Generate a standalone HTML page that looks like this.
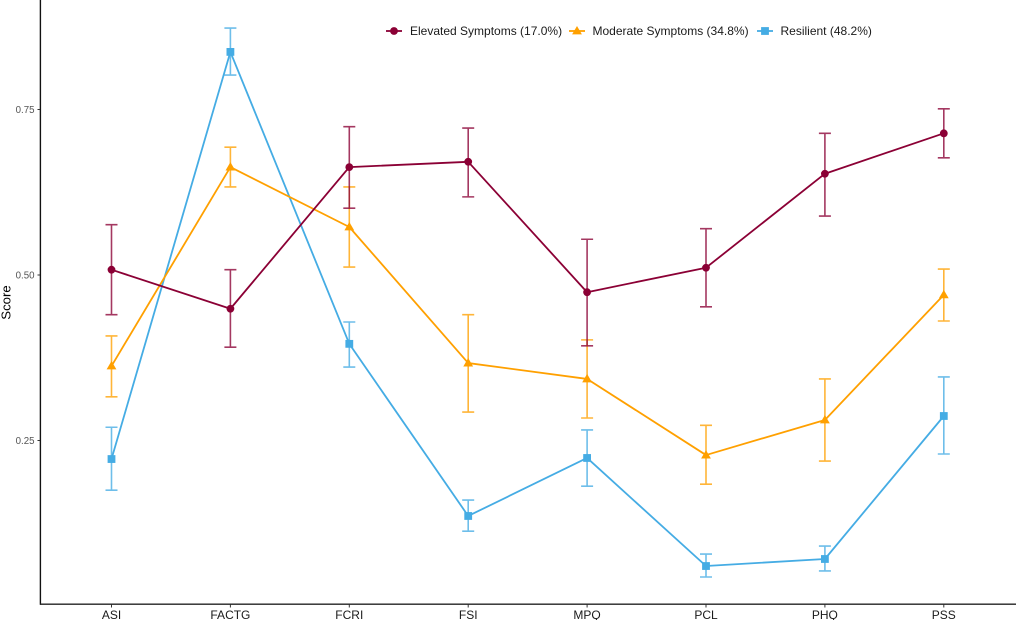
<!DOCTYPE html>
<html>
<head>
<meta charset="utf-8">
<style>
html,body{margin:0;padding:0;background:#fff;}
svg{display:block;}
text{font-family:"Liberation Sans",Arial,sans-serif;}
</style>
</head>
<body>
<svg id="chart" width="1016" height="620" viewBox="0 0 1016 620" xmlns="http://www.w3.org/2000/svg"></svg>
<script>
const categories = ["ASI","FACTG","FCRI","FSI","MPQ","PCL","PHQ","PSS"];
const yTicks = [0.25,0.50,0.75];
const elevatedName = "Elevated Symptoms (17.0%)";
const elevatedMean  = [0.508,0.449,0.663,0.671,0.474,0.511,0.653,0.714];
const elevatedUpper = [0.576,0.508,0.724,0.722,0.554,0.570,0.714,0.751];
const elevatedLower = [0.440,0.391,0.601,0.618,0.393,0.452,0.589,0.677];
const moderateName = "Moderate Symptoms (34.8%)";
const moderateMean  = [0.3625,0.663,0.5725,0.367,0.343,0.228,0.281,0.470];
const moderateUpper = [0.408,0.693,0.633,0.440,0.402,0.273,0.343,0.509];
const moderateLower = [0.316,0.633,0.512,0.293,0.284,0.184,0.219,0.4305];
const resilientName = "Resilient (48.2%)";
const resilientMean  = [0.222,0.837,0.396,0.136,0.2236,0.0604,0.071,0.287];
const resilientUpper = [0.270,0.873,0.429,0.160,0.266,0.0785,0.0906,0.346];
const resilientLower = [0.175,0.802,0.361,0.113,0.181,0.0438,0.053,0.2296];

const NS = "http://www.w3.org/2000/svg";
const svg = document.getElementById("chart");
function xPos(i){ return 111.5 + i * 118.9; }
function yPos(v){ return 275 - (v - 0.5) * 662; }
function make(tag, attrs, parent, txt){
  const el = document.createElementNS(NS, tag);
  for (const k in attrs) el.setAttribute(k, attrs[k]);
  if (txt !== undefined) el.textContent = txt;
  (parent || svg).appendChild(el);
  return el;
}
function drawMarker(shape, cx, cy, color, parent){
  if (shape === "circle") return make("circle", {cx:cx, cy:cy, r:3.9, fill:color}, parent);
  if (shape === "triangle") return make("polygon", {points:(cx-4.9)+","+(cy+3.4)+" "+(cx+4.9)+","+(cy+3.4)+" "+cx+","+(cy-5), fill:color}, parent);
  return make("rect", {x:cx-3.9, y:cy-3.9, width:7.8, height:7.8, fill:color}, parent);
}

const series = [
  {key:"resilient", name:resilientName, mean:resilientMean, upper:resilientUpper, lower:resilientLower, color:"#45ace4", shape:"square"},
  {key:"moderate", name:moderateName, mean:moderateMean, upper:moderateUpper, lower:moderateLower, color:"#ffa000", shape:"triangle"},
  {key:"elevated", name:elevatedName, mean:elevatedMean, upper:elevatedUpper, lower:elevatedLower, color:"#8b0035", shape:"circle"}
];

series.forEach(function(s){
  const g = make("g", {});
  
  
  s.mean.forEach(function(m, i){
    const x = xPos(i), yu = yPos(s.upper[i]), yl = yPos(s.lower[i]);
    const eb = make("path", {d:"M"+(x-6)+" "+yu+"H"+(x+6)+"M"+x+" "+yu+"V"+yl+"M"+(x-6)+" "+yl+"H"+(x+6),
      fill:"none", stroke:s.color, "stroke-width":1.6, "stroke-opacity":0.78}, g);
    
    
  });
  const pts = s.mean.map(function(m, i){ return xPos(i) + "," + yPos(m); }).join(" ");
  const line = make("polyline", {points:pts, fill:"none", stroke:s.color, "stroke-width":1.8, "stroke-linejoin":"round"}, g);
  
  
  s.mean.forEach(function(m, i){
    const mk = drawMarker(s.shape, xPos(i), yPos(m), s.color, g);
    
    
  });
});

/* axes */
const yAxis = make("line", {x1:40.4, y1:0, x2:40.4, y2:604.8, stroke:"#111", "stroke-width":1.4});


const xAxis = make("line", {x1:40, y1:604.2, x2:1016, y2:604.2, stroke:"#222", "stroke-width":1.4});



yTicks.forEach(function(t){
  const y = yPos(t);
  const tk = make("line", {x1:37.5, y1:y, x2:40, y2:y, stroke:"#333", "stroke-width":1});
  
  
  const lb = make("text", {x:34.5, y:y+3.5, "text-anchor":"end", "font-size":9.7, fill:"#555"}, svg, t.toFixed(2));
  
  
});
categories.forEach(function(c, i){
  const x = xPos(i);
  const tk = make("line", {x1:x, y1:604.5, x2:x, y2:607.5, stroke:"#333", "stroke-width":1});
  
  
  const lb = make("text", {x:x, y:619, "text-anchor":"middle", "font-size":12, fill:"#1a1a1a"}, svg, c);
  
  
});
const yTitle = make("text", {x:0, y:0, transform:"translate(10.3,302.5) rotate(-90)", "text-anchor":"middle", "font-size":13.2, fill:"#000"}, svg, "Score");



/* legend */
const legend = make("g", {});


[
  {s:series[2], kx:394, tx:410},
  {s:series[1], kx:577, tx:592.5},
  {s:series[0], kx:765, tx:780.5}
].forEach(function(e){
  const g = make("g", {}, legend);
  
  
  make("line", {x1:e.kx-8, y1:31, x2:e.kx+8, y2:31, stroke:e.s.color, "stroke-width":1.8}, g);
  drawMarker(e.s.shape, e.kx, 31, e.s.color, g);
  make("text", {x:e.tx, y:35, "font-size":12, fill:"#1a1a1a"}, g, e.s.name);
});
</script>
</body>
</html>
